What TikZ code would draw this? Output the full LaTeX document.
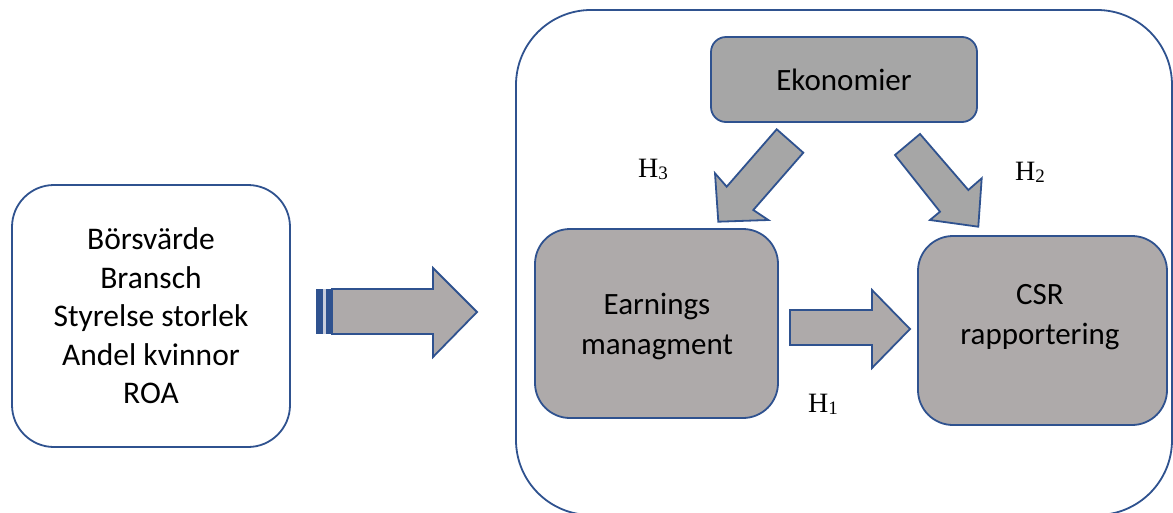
\documentclass[tikz,border=0pt]{standalone}
\usepackage{fontspec}
\setmainfont{Carlito}
\newfontfamily\hfont{Liberation Serif}
\definecolor{bord}{RGB}{47,82,143}
\definecolor{gA}{RGB}{174,170,170}
\definecolor{gB}{RGB}{166,166,166}
\definecolor{gap}{RGB}{200,205,220}
\tikzset{
  box/.style={draw=bord, line width=1.8pt, rectangle},
  txt/.style={font=\fontsize{31}{40}\selectfont, align=center, inner sep=0pt},
  hlab/.style={font=\hfont\fontsize{28}{28}\selectfont, anchor=base west, inner sep=0pt},
  blockarrow/.style={draw=bord, line width=1.8pt, line join=miter},
}
\newcommand{\hsub}[1]{H\raisebox{-2pt}{\fontsize{19}{19}\selectfont #1}}
\begin{document}
\begin{tikzpicture}[x=1pt,y=-1pt]
\useasboundingbox (0,0) rectangle (1173,512);
\fill[white] (0,0) rectangle (1173,512);
% left box
\node[box, fill=white, rounded corners=42pt, minimum width=278pt, minimum height=262pt,
      font=\fontsize{31.5}{38.5}\selectfont, align=center] (ctrl) at (151,316)
  {Börsvärde\\Bransch\\Styrelse storlek\\Andel kvinnor\\ROA};
% big box
\node[box, rounded corners=75pt, minimum width=656pt, minimum height=505pt] (model) at (844,262.5) {};
% inner boxes
\node[box, fill=gB, rounded corners=15pt, minimum width=266pt, minimum height=85pt, txt] (eko) at (844,79.5) {Ekonomier};
\node[box, fill=gA, rounded corners=35pt, minimum width=243pt, minimum height=189pt] (em) at (656.5,323.5) {};
\node[txt] (emtext) at (657,326) {Earnings\\managment};
\node[box, fill=gA, rounded corners=35pt, minimum width=249pt, minimum height=189pt] (csr) at (1042.5,330.5) {};
\node[txt] (csrtext) at (1040,317) {CSR\\rapportering};
% striped arrow
\fill[bord] (316,289) rectangle (323,334);
\fill[gap] (323,289) rectangle (326,334);
\fill[bord] (326,289) rectangle (332,334);
\draw[blockarrow, fill=gA] (332,289) -- (433,289) -- (433,268) -- (477,312) -- (433,357) -- (433,334) -- (332,334) -- cycle;
% H1 arrow
\draw[blockarrow, fill=gA] (790,310) -- (872,310) -- (872,290) -- (910,329) -- (872,368) -- (872,345) -- (790,345) -- cycle;
% diagonal arrows
\draw[blockarrow, fill=gB] (776.7,129.3) -- (726.7,186.7) -- (715,173.3) -- (718.3,221.7) -- (768.3,220) -- (753.3,210) -- (803.3,152.7) -- cycle;
\draw[blockarrow, fill=gB] (920,134) -- (895,155) -- (940,211.7) -- (930,220) -- (978.3,226.7) -- (981.7,178.3) -- (968.3,190) -- cycle;
% labels
\node[hlab] (h3) at (638,177) {\hsub{3}};
\node[hlab] (h2) at (1015,180) {\hsub{2}};
\node[hlab] (h1) at (808,412) {\hsub{1}};
\end{tikzpicture}
\end{document}
